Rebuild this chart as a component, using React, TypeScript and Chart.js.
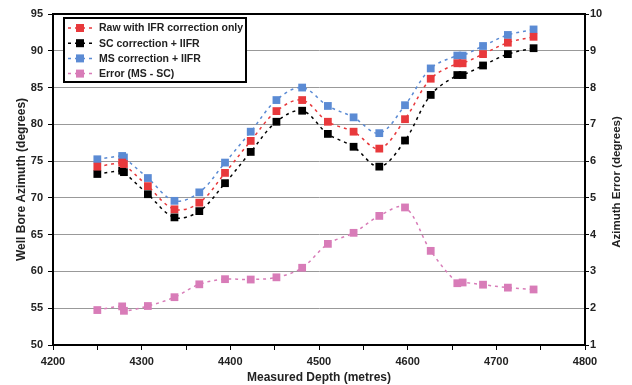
import React, { useEffect, useRef } from "react";
import { Chart, registerables } from "chart.js";

Chart.register(...registerables);

const depth = [4250, 4278, 4280, 4307, 4337, 4365, 4394, 4423, 4452, 4481, 4510, 4539, 4568, 4597, 4626, 4656, 4662, 4685, 4713, 4742];
const rawIFR = [74.25, 74.8, 74.6, 71.6, 68.45, 69.35, 73.4, 77.75, 81.8, 83.3, 80.35, 79.0, 76.7, 80.7, 86.2, 88.3, 88.3, 89.55, 91.1, 91.9];
const scIIFR = [73.25, 73.7, 73.5, 70.5, 67.35, 68.2, 72.0, 76.25, 80.35, 81.85, 78.7, 76.95, 74.25, 77.8, 84.0, 86.7, 86.7, 88.0, 89.55, 90.35];
const msIIFR = [75.25, 75.7, 75.5, 72.7, 69.6, 70.75, 74.8, 79.0, 83.3, 85.0, 82.5, 80.95, 78.8, 82.6, 87.6, 89.35, 89.35, 90.65, 92.15, 92.9];
const errMSSC = [1.95, 2.05, 1.93, 2.06, 2.3, 2.65, 2.79, 2.78, 2.84, 3.1, 3.75, 4.05, 4.51, 4.74, 3.56, 2.68, 2.7, 2.64, 2.56, 2.51];

const seriesLabels = ["Raw with IFR correction only", "SC correction + IIFR", "MS correction + IIFR", "Error (MS - SC)"];
const seriesColors = ["#e8393c", "#000000", "#5b8bd4", "#d87cb8"];
const xTitle = "Measured Depth (metres)";
const yTitle = "Well Bore Azimuth (degrees)";
const y1Title = "Azimuth Error (degrees)";

const FONT = "'Liberation Sans', Arial, sans-serif";

const pts = (ys: number[]) => depth.map((x, i) => ({ x, y: ys[i] }));

const decorPlugin = {
  id: "decor",
  afterDraw(chart: any) {
    const { ctx, chartArea } = chart;
    ctx.save();
    // top border
    ctx.strokeStyle = "#000";
    ctx.lineWidth = 2;
    ctx.beginPath();
    ctx.moveTo(chartArea.left, chartArea.top);
    ctx.lineTo(chartArea.right, chartArea.top);
    ctx.stroke();

    // right title (reads bottom-to-top)
    ctx.fillStyle = "#222";
    ctx.font = `bold 11.5px ${FONT}`;
    ctx.textAlign = "center";
    ctx.textBaseline = "middle";
    ctx.translate(617, 182);
    ctx.rotate(-Math.PI / 2);
    ctx.fillText(y1Title, 0, 0);
    ctx.restore();

    // legend
    ctx.save();
    const bx = 64, by = 18, bw = 182, bh = 64;
    ctx.fillStyle = "#fff";
    ctx.fillRect(bx, by, bw, bh);
    ctx.strokeStyle = "#000";
    ctx.lineWidth = 2;
    ctx.strokeRect(bx, by, bw, bh);
    chart.data.datasets.forEach((ds: any, i: number) => {
      const cy = by + 10 + i * 15.2;
      ctx.strokeStyle = ds.borderColor;
      ctx.lineWidth = 1.5;
      ctx.setLineDash([3, 4]);
      ctx.beginPath();
      ctx.moveTo(68, cy);
      ctx.lineTo(92, cy);
      ctx.stroke();
      ctx.setLineDash([]);
      ctx.fillStyle = ds.backgroundColor;
      ctx.fillRect(76, cy - 4, 8, 8);
      ctx.fillStyle = "#222";
      ctx.font = `bold 10.5px ${FONT}`;
      ctx.textAlign = "left";
      ctx.textBaseline = "middle";
      ctx.fillText(ds.label, 99, cy + 0.5);
    });
    ctx.restore();
  },
};

export default function App() {
  const ref = useRef<HTMLCanvasElement>(null);
  useEffect(() => {
    if (!ref.current) return;
    const mk = (i: number, ys: number[], axis: string) => ({
      label: seriesLabels[i],
      data: pts(ys),
      yAxisID: axis,
      borderColor: seriesColors[i],
      backgroundColor: seriesColors[i],
      borderWidth: 1.5,
      borderDash: [3, 4],
      pointStyle: "rect",
      pointRadius: 5.5,
      pointBorderWidth: 0,
      tension: 0.35,
      fill: false,
    });
    const tickFont = { family: FONT, size: 11, weight: "bold" as const };
    const titleFont = { family: FONT, size: 12, weight: "bold" as const };
    const chart = new Chart(ref.current, {
      type: "line",
      data: {
        datasets: [
          mk(0, rawIFR, "y"),
          mk(1, scIIFR, "y"),
          mk(2, msIIFR, "y"),
          mk(3, errMSSC, "y1"),
        ] as any,
      },
      options: {
        animation: false,
        responsive: false,
        layout: { padding: { top: 14, left: 0, right: 0, bottom: 0 } },
        plugins: { legend: { display: false }, tooltip: { enabled: false } },
        scales: {
          x: {
            type: "linear",
            min: 4200,
            max: 4800,
            ticks: {
              stepSize: 50,
              autoSkip: false,
              maxRotation: 0,
              color: "#222",
              font: tickFont,
              padding: 5,
              callback: (v: any) => (Number(v) % 100 === 0 ? String(v) : ""),
            },
            grid: { drawOnChartArea: false, drawTicks: true, tickLength: 5, tickColor: "#000", color: "#000" },
            border: { color: "#000", width: 2 },
            title: { display: true, text: xTitle, color: "#222", font: titleFont, padding: { top: 1, bottom: 0 } },
            afterFit: (s: any) => { s.height = 40; },
          },
          y: {
            position: "left",
            min: 50,
            max: 95,
            ticks: { stepSize: 5, color: "#222", font: tickFont, padding: 5 },
            grid: { color: "#999", lineWidth: 1, tickLength: 5, tickColor: "#000" },
            border: { color: "#000", width: 2 },
            title: { display: true, text: yTitle, color: "#222", font: titleFont, padding: { top: 14, bottom: 0 } },
            afterFit: (s: any) => { s.width = 53; },
          },
          y1: {
            position: "right",
            min: 1,
            max: 10,
            ticks: { stepSize: 1, color: "#222", font: tickFont, padding: 1 },
            grid: { drawOnChartArea: false, tickLength: 4, tickColor: "#000" },
            border: { color: "#000", width: 2 },
            title: { display: false },
            afterFit: (s: any) => { s.width = 47; },
          },
        },
      } as any,
      plugins: [decorPlugin],
    });
    return () => chart.destroy();
  }, []);
  return (
    <div style={{ position: "absolute", left: 0, top: 0, width: 632, height: 385, background: "#fff" }}>
      <canvas ref={ref} width={632} height={385} />
    </div>
  );
}
